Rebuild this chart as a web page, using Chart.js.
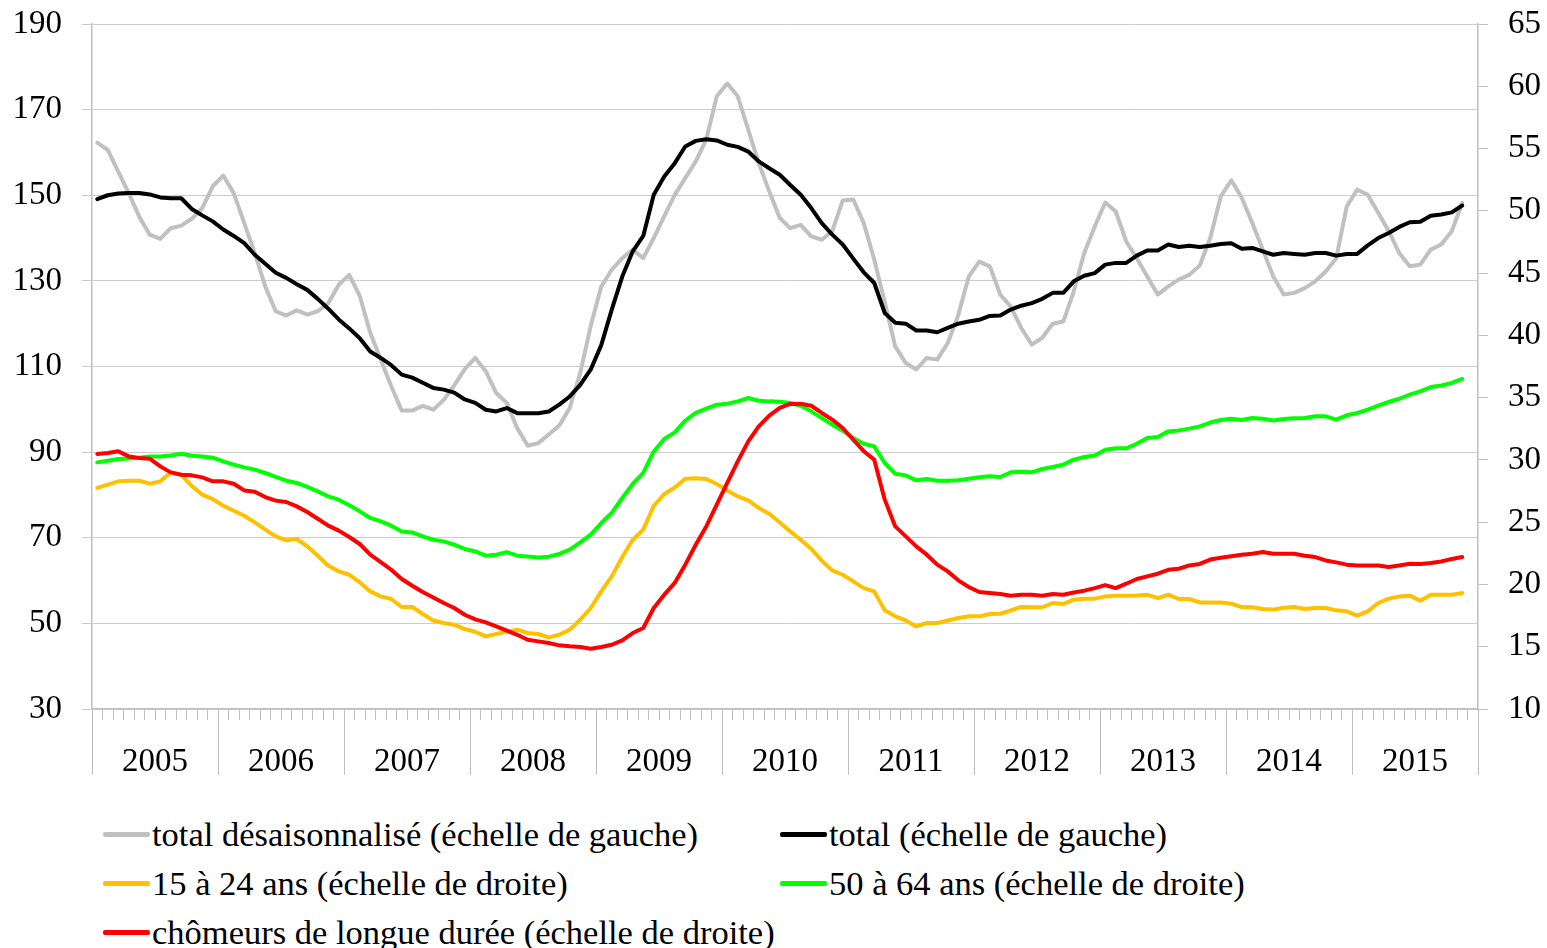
<!DOCTYPE html>
<html lang="fr">
<head>
<meta charset="utf-8">
<title>Demandeurs d'emploi</title>
<script src="https://cdn.jsdelivr.net/npm/chart.js@4.4.1/dist/chart.umd.min.js"></script>
<style>
    html, body { margin: 0; padding: 0; background: #fff; }
    #wrap { position: relative; width: 1547px; height: 948px; overflow: hidden; }
    #chart { position: absolute; left: 0; top: 0; }
    #legend {
        position: absolute; left: 103px; top: 810px;
        display: grid; grid-template-columns: 677px 677px; grid-auto-rows: 49px;
        font-family: "Liberation Serif", "Times New Roman", serif; font-size: 34.5px; color: #000;
    }
    .item { display: flex; align-items: center; white-space: nowrap; }
    .swatch { width: 47px; height: 5px; border-radius: 2px; margin-right: 2px; flex: none; }
</style>
</head>
<body>
<div id="wrap">
    <canvas id="chart" width="1547" height="790"></canvas>
    <div id="legend"></div>
</div>
<script>
const years = ["2005","2006","2007","2008","2009","2010","2011","2012","2013","2014","2015"];

// total désaisonnalisé (échelle de gauche)
const totalSeasonal = [
    162.3,160.6,155.5,150.5,145.0,140.8,139.8,142.3,142.9,144.5,
    147.0,152.1,154.6,150.5,143.5,136.5,128.7,122.9,121.9,123.1,
    122.1,122.9,124.8,129.1,131.4,126.5,117.9,111.6,105.4,99.7,
    99.7,100.8,99.9,102.2,105.6,109.4,112.0,108.9,103.8,101.5,
    95.6,91.5,92.1,94.1,96.2,100.3,108.5,119.5,128.7,132.6,
    135.3,137.3,135.3,140.0,145.1,150.1,154.0,157.9,163.0,173.1,
    176.1,173.1,165.3,157.5,150.9,144.7,142.3,143.1,140.4,139.6,
    141.6,148.8,149.0,143.5,135.0,125.0,114.7,110.8,109.3,112.0,
    111.6,115.5,122.0,131.0,134.5,133.4,126.8,124.0,119.0,115.1,
    116.7,120.0,120.5,127.5,136.5,142.7,148.3,146.2,139.2,135.3,
    131.0,126.8,128.7,130.3,131.4,133.6,140.0,149.7,153.5,149.4,
    143.5,137.3,131.0,126.8,127.2,128.3,129.9,132.2,135.3,147.4,
    151.3,150.1,145.9,141.6,136.5,133.4,133.8,137.3,138.5,141.6,148.2
];

// total (échelle de gauche)
const total = [
    149.1,150.0,150.4,150.5,150.5,150.2,149.5,149.3,149.3,146.8,
    145.3,143.9,142.0,140.5,138.8,136.1,134.0,131.9,130.7,129.2,
    127.9,125.8,123.5,121.0,118.9,116.6,113.5,112.0,110.3,108.1,
    107.4,106.2,105.0,104.6,103.9,102.3,101.5,99.9,99.5,100.3,
    99.1,99.1,99.1,99.5,101.1,103.0,105.7,109.3,115.0,123.3,
    131.0,136.9,140.5,150.1,154.4,157.5,161.4,162.7,163.1,162.8,
    161.8,161.3,160.2,157.9,156.3,154.8,152.4,150.1,147.0,143.5,
    140.8,138.5,135.2,132.0,129.5,122.5,120.2,120.0,118.4,118.4,
    118.0,119.0,120.0,120.5,120.9,121.8,121.9,123.3,124.2,124.8,
    125.8,127.2,127.2,129.9,131.2,131.8,133.8,134.2,134.2,135.9,
    137.1,137.1,138.5,137.9,138.2,137.9,138.2,138.6,138.8,137.5,
    137.7,136.9,136.1,136.5,136.3,136.1,136.5,136.5,135.9,136.3,
    136.3,138.3,140.0,141.2,142.6,143.7,143.8,145.2,145.5,146.0,147.6
];

// 15 à 24 ans (échelle de droite)
const young = [
    27.75,28.01,28.28,28.33,28.33,28.09,28.28,29.00,28.81,27.90,
    27.21,26.85,26.32,25.92,25.52,24.98,24.40,23.86,23.54,23.65,
    23.06,22.31,21.50,21.05,20.78,20.17,19.44,19.04,18.83,18.19,
    18.19,17.63,17.11,16.91,16.77,16.42,16.20,15.83,16.02,16.21,
    16.37,16.10,16.02,15.75,15.96,16.37,17.17,18.11,19.44,20.65,
    22.20,23.59,24.40,26.32,27.26,27.79,28.49,28.52,28.47,28.07,
    27.55,27.07,26.75,26.14,25.68,24.98,24.26,23.59,22.85,21.91,
    21.13,20.78,20.25,19.71,19.44,17.92,17.44,17.11,16.63,16.91,
    16.91,17.11,17.31,17.44,17.44,17.63,17.65,17.92,18.19,18.17,
    18.17,18.51,18.43,18.78,18.86,18.86,19.04,19.10,19.10,19.12,
    19.18,18.91,19.18,18.83,18.83,18.56,18.56,18.56,18.46,18.18,
    18.17,18.03,17.98,18.13,18.19,18.03,18.11,18.11,17.92,17.84,
    17.49,17.84,18.51,18.86,19.04,19.10,18.70,19.18,19.18,19.18,19.31
];

// 50 à 64 ans (échelle de droite)
const senior = [
    29.80,29.94,30.07,30.12,30.18,30.28,30.28,30.36,30.50,30.34,
    30.28,30.18,29.88,29.62,29.40,29.22,28.95,28.63,28.33,28.15,
    27.83,27.47,27.07,26.81,26.35,25.87,25.34,25.06,24.72,24.26,
    24.18,23.86,23.59,23.46,23.19,22.85,22.65,22.31,22.39,22.60,
    22.31,22.25,22.17,22.23,22.45,22.79,23.38,24.00,24.93,25.74,
    26.94,28.07,28.95,30.68,31.68,32.21,33.15,33.77,34.11,34.43,
    34.51,34.70,34.97,34.75,34.70,34.67,34.57,34.35,33.90,33.36,
    32.83,32.35,31.76,31.30,31.09,29.75,28.89,28.76,28.36,28.47,
    28.33,28.33,28.36,28.49,28.60,28.68,28.63,29.00,29.05,29.00,
    29.27,29.43,29.62,30.02,30.23,30.36,30.82,30.93,30.93,31.30,
    31.76,31.84,32.29,32.37,32.51,32.69,33.00,33.20,33.30,33.20,
    33.37,33.31,33.17,33.28,33.34,33.36,33.50,33.50,33.23,33.58,
    33.77,34.03,34.35,34.65,34.91,35.24,35.50,35.85,35.98,36.18,36.50
];

// chômeurs de longue durée (échelle de droite)
const longTerm = [
    30.48,30.56,30.69,30.28,30.15,30.10,29.48,29.00,28.81,28.76,
    28.60,28.28,28.28,28.09,27.55,27.45,27.02,26.73,26.62,26.27,
    25.82,25.28,24.72,24.32,23.81,23.25,22.39,21.80,21.18,20.44,
    19.90,19.39,18.96,18.51,18.11,17.57,17.20,16.95,16.63,16.29,
    15.96,15.56,15.43,15.30,15.11,15.03,14.98,14.84,14.98,15.16,
    15.51,16.10,16.50,18.11,19.18,20.12,21.59,23.19,24.66,26.40,
    28.15,29.88,31.49,32.69,33.55,34.17,34.49,34.51,34.35,33.77,
    33.23,32.56,31.62,30.70,30.02,26.81,24.66,23.86,23.06,22.39,
    21.59,21.05,20.33,19.80,19.39,19.31,19.23,19.10,19.18,19.17,
    19.10,19.23,19.17,19.36,19.50,19.71,19.95,19.71,20.06,20.44,
    20.65,20.86,21.18,21.26,21.53,21.65,22.00,22.15,22.27,22.39,
    22.47,22.61,22.47,22.47,22.47,22.31,22.20,21.93,21.77,21.59,
    21.53,21.53,21.53,21.40,21.53,21.67,21.64,21.72,21.85,22.04,22.20
];

// one category per month, Jan 2005 .. Dec 2015
const monthLabels = [];
years.forEach(y => {
    for (let m = 1; m <= 12; m++) monthLabels.push(y + "-" + String(m).padStart(2, "0"));
});

const serif = '"Liberation Serif", "Times New Roman", serif';
const axisGray = "#bfbfbf";
const gridGray = "#cccccc";

// fixed axis widths, and no extra padding from the tick labels
function fitSide(width) {
    return s => {
        s.width = width;
        s.paddingTop = 0;
        s.paddingBottom = 0;
    };
}

const chart = new Chart(document.getElementById("chart"), {
    type: "line",
    data: {
        labels: monthLabels,
        datasets: [
            { label: "total désaisonnalisé (échelle de gauche)", data: totalSeasonal, borderColor: "#c0c0c0", yAxisID: "y", order: 5 },
            { label: "total (échelle de gauche)", data: total, borderColor: "#000000", yAxisID: "y", order: 1 },
            { label: "15 à 24 ans (échelle de droite)", data: young, borderColor: "#ffc000", yAxisID: "y1", order: 3 },
            { label: "50 à 64 ans (échelle de droite)", data: senior, borderColor: "#00ff00", yAxisID: "y1", order: 4 },
            { label: "chômeurs de longue durée (échelle de droite)", data: longTerm, borderColor: "#ff0000", yAxisID: "y1", order: 2 }
        ]
    },
    options: {
        responsive: false,
        animation: false,
        layout: { padding: { top: 24, bottom: 15, left: 0, right: 0 } },
        elements: {
            point: { radius: 0 },
            line: { borderWidth: 4, tension: 0, fill: false, borderCapStyle: "round", borderJoinStyle: "round" }
        },
        plugins: { legend: { display: false }, tooltip: { enabled: false } },
        scales: {
            x: {
                type: "category",
                position: "bottom",
                offset: true,
                weight: 0,
                grid: { offset: true, drawOnChartArea: false, tickLength: 11, color: axisGray },
                border: { color: axisGray, width: 1.5 },
                ticks: { display: false, autoSkip: false },
                afterFit: s => { s.height = 11; }
            },
            years: {
                type: "category",
                labels: years,
                position: "bottom",
                offset: true,
                weight: 1,
                grid: { offset: true, drawOnChartArea: false, tickLength: 55, color: axisGray },
                border: { display: false },
                ticks: { padding: -32, color: "#000", maxRotation: 0, autoSkip: false, font: { family: serif, size: 33 } },
                afterFit: s => { s.height = 55; }
            },
            y: {
                position: "left",
                min: 30,
                max: 190,
                grid: { color: gridGray, tickLength: 10 },
                border: { color: axisGray, width: 1.5 },
                ticks: { stepSize: 20, padding: 20, color: "#000", font: { family: serif, size: 33 } },
                afterFit: fitSide(92)
            },
            y1: {
                position: "right",
                min: 10,
                max: 65,
                grid: { drawOnChartArea: false, tickLength: 10, color: axisGray },
                border: { color: axisGray, width: 1.5 },
                ticks: { stepSize: 5, padding: 20, color: "#000", font: { family: serif, size: 33 } },
                afterFit: fitSide(69)
            }
        }
    }
});

// legend in two columns, built from the datasets
const legendEl = document.getElementById("legend");
chart.data.datasets.forEach(ds => {
    const item = document.createElement("div");
    item.className = "item";
    const sw = document.createElement("span");
    sw.className = "swatch";
    sw.style.background = ds.borderColor;
    const txt = document.createElement("span");
    txt.textContent = ds.label;
    item.appendChild(sw);
    item.appendChild(txt);
    legendEl.appendChild(item);
});
</script>
</body>
</html>
